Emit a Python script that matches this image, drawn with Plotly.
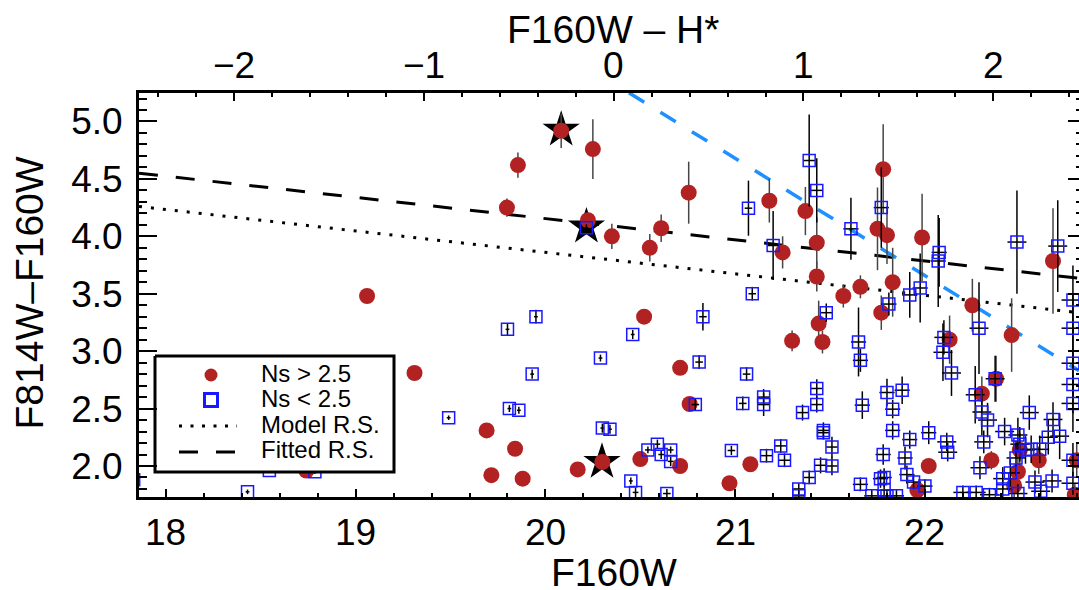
import plotly.graph_objects as go

# ---------------- data ----------------
# red circles (Ns > 2.5): F160W, F814W-F160W, error
red_x = [20.083, 20.25, 19.855, 19.797, 20.224, 20.35, 20.61, 20.55, 20.755, 19.06,
         19.31, 20.52, 20.30, 20.17, 20.50, 20.71, 20.97, 21.08, 20.71, 20.76,
         19.69, 19.84, 19.715, 19.88, 18.74, 21.18, 21.37, 21.78, 21.75, 21.80,
         21.985, 21.43, 21.25, 21.43, 21.66, 21.57, 21.83, 22.25, 22.675, 21.77,
         21.44, 21.30, 21.46, 22.457, 22.13, 22.375, 22.30, 22.02, 21.96, 22.35,
         22.50, 22.49, 22.47, 22.60, 22.80, 22.79]
red_y = [4.92, 4.76, 4.62, 4.25, 4.14, 4.00, 4.07, 3.90, 4.38, 3.48,
         2.81, 3.30, 2.035, 1.97, 2.06, 2.00, 1.85, 2.015, 2.855, 2.54,
         2.31, 2.15, 1.92, 1.89, 1.96, 4.31, 4.22, 4.585, 4.065, 4.01,
         3.99, 3.945, 3.86, 3.65, 3.56, 3.48, 3.60, 3.40, 3.785, 3.335,
         3.24, 3.09, 3.08, 3.14, 3.10, 2.76, 2.63, 2.00, 1.79, 2.05,
         2.14, 1.95, 1.83, 2.05, 2.05, 1.75]
red_ey = [0.15, 0.26, 0.11, 0.08, 0.05, 0.11, 0.12, 0.12, 0.27, 0.02,
          0.02, 0.03, 0.03, 0.02, 0.03, 0.03, 0.03, 0.04, 0.04, 0.06,
          0.02, 0.02, 0.02, 0.02, 0.01, 0.19, 0.21, 0.39, 0.36, 0.25,
          0.38, 0.22, 0.14, 0.13, 0.10, 0.10, 0.30, 0.23, 0.46, 0.15,
          0.20, 0.09, 0.10, 0.32, 0.21, 0.20, 0.15, 0.06, 0.06, 0.08,
          0.15, 0.12, 0.10, 0.12, 0.15, 0.10]

# blue squares (Ns < 2.5)
sq_x = [17.83, 18.43, 18.545, 18.785, 19.49, 19.80, 19.81, 19.86, 19.93, 19.95,
        20.216, 20.29, 20.30, 20.34, 20.45, 20.475, 20.46, 20.54, 20.59, 20.61,
        20.66, 20.66, 20.64, 20.79, 20.81, 20.83, 20.98, 21.04, 21.06, 21.07,
        21.09, 21.15, 21.15, 21.165, 21.20, 21.24, 21.26, 21.335, 21.355, 21.39,
        21.39, 21.43, 21.43, 21.43, 21.45, 21.465, 21.465, 21.48, 21.51, 21.51,
        21.335, 21.61, 21.65, 21.66, 21.67, 21.66, 21.72, 21.77, 21.78, 21.785,
        21.766, 21.785, 21.80, 21.80, 21.81, 21.83, 21.83, 21.85, 21.88, 21.895,
        21.905, 21.92, 21.92, 21.94, 21.975, 22.00, 22.02, 22.07, 22.075, 22.10,
        22.095, 22.115, 22.12, 22.14, 22.20, 22.265, 22.27, 22.285, 22.29, 22.30,
        22.31, 22.33, 22.34, 22.37, 22.41, 22.41, 22.42, 22.45, 22.48, 22.485,
        22.49, 22.50, 22.49, 22.53, 22.55, 22.56, 22.58, 22.605, 22.61, 22.65,
        22.67, 22.675, 22.70, 22.71, 22.78, 22.78, 22.78, 22.78, 22.78, 22.78,
        22.78]
sq_y = [1.88, 1.775, 1.96, 1.95, 2.42, 3.19, 2.50, 2.485, 2.80, 3.30,
        4.075, 2.94, 2.33, 2.32, 1.87, 1.77, 3.145, 2.14, 2.19, 2.10,
        2.14, 2.04, 1.76, 2.535, 2.905, 3.30, 2.135, 2.545, 2.80, 4.245,
        3.50, 2.60, 2.535, 2.09, 3.92, 2.175, 2.05, 1.80, 2.465, 1.90,
        4.66, 4.40, 2.675, 2.535, 2.006, 2.31, 2.29, 3.335, 2.165, 2.00,
        1.74, 4.065, 3.08, 2.92, 2.53, 1.84, 1.74, 4.25, 2.10, 1.90,
        1.89, 1.79, 2.64, 1.74, 3.41, 2.495, 2.31, 1.74, 2.66, 2.07,
        1.925, 3.49, 2.23, 1.86, 3.55, 1.825, 2.29, 3.785, 3.86, 3.12,
        2.99, 2.21, 2.12, 2.81, 1.77, 2.62, 1.77, 3.20, 1.985, 2.47,
        2.21, 2.40, 1.75, 2.76, 1.89, 1.80, 2.30, 1.94, 2.07, 3.95,
        2.27, 2.19, 1.76, 2.14, 2.465, 2.145, 1.86, 2.145, 1.78, 2.25,
        1.87, 2.405, 3.915, 2.26, 3.445, 3.20, 2.895, 2.71, 2.545, 2.05,
        1.85]
sq_ex = [0.01, 0.01, 0.01, 0.01, 0.01, 0.01, 0.01, 0.01, 0.01, 0.01,
         0.01, 0.01, 0.01, 0.01, 0.01, 0.015, 0.01, 0.015, 0.015, 0.015,
         0.015, 0.015, 0.02, 0.02, 0.02, 0.02, 0.02, 0.02, 0.02, 0.02,
         0.02, 0.03, 0.03, 0.03, 0.03, 0.03, 0.03, 0.03, 0.03, 0.03,
         0.03, 0.03, 0.03, 0.03, 0.03, 0.03, 0.03, 0.03, 0.03, 0.03,
         0.03, 0.04, 0.04, 0.04, 0.04, 0.04, 0.04, 0.04, 0.04, 0.04,
         0.04, 0.04, 0.04, 0.04, 0.04, 0.04, 0.04, 0.04, 0.04, 0.04,
         0.04, 0.04, 0.04, 0.04, 0.04, 0.04, 0.04, 0.04, 0.04, 0.05,
         0.05, 0.05, 0.05, 0.05, 0.05, 0.05, 0.05, 0.05, 0.05, 0.05,
         0.05, 0.05, 0.05, 0.05, 0.05, 0.05, 0.05, 0.05, 0.05, 0.05,
         0.05, 0.05, 0.05, 0.05, 0.05, 0.05, 0.05, 0.05, 0.05, 0.05,
         0.05, 0.05, 0.05, 0.05, 0.06, 0.06, 0.06, 0.06, 0.06, 0.06,
         0.06]
sq_ey = [0.02, 0.02, 0.02, 0.02, 0.02, 0.05, 0.03, 0.03, 0.04, 0.06,
         0.03, 0.03, 0.04, 0.04, 0.03, 0.04, 0.04, 0.03, 0.04, 0.04,
         0.03, 0.04, 0.04, 0.05, 0.06, 0.12, 0.04, 0.06, 0.06, 0.24,
         0.06, 0.07, 0.10, 0.06, 0.30, 0.06, 0.06, 0.05, 0.07, 0.06,
         0.40, 0.28, 0.08, 0.07, 0.07, 0.07, 0.06, 0.08, 0.09, 0.08,
         0.05, 0.27, 0.30, 0.10, 0.12, 0.06, 0.05, 0.35, 0.09, 0.08,
         0.08, 0.07, 0.12, 0.05, 0.10, 0.08, 0.08, 0.05, 0.12, 0.10,
         0.08, 0.20, 0.08, 0.06, 0.30, 0.06, 0.10, 0.40, 0.30, 0.15,
         0.25, 0.08, 0.08, 0.20, 0.06, 0.25, 0.06, 0.40, 0.10, 0.20,
         0.10, 0.15, 0.06, 0.20, 0.10, 0.08, 0.12, 0.12, 0.15, 0.45,
         0.15, 0.15, 0.08, 0.12, 0.15, 0.12, 0.10, 0.12, 0.08, 0.15,
         0.10, 0.15, 0.40, 0.20, 0.30, 0.30, 0.30, 0.25, 0.25, 0.15,
         0.10]

# starred objects
star_x = [20.083, 20.216, 20.298]
star_y = [4.928, 4.084, 2.035]

# red-sequence lines
model_rs_x = [17.858, 22.812]
model_rs_y = [4.26, 3.335]
fitted_rs_x = [17.858, 22.812]
fitted_rs_y = [4.55, 3.635]
limit_x = [20.44, 22.812]
limit_y = [5.25, 2.83]

# axes
x_range = [17.858, 22.812]
y_range = [1.730, 5.248]
h_star = 20.36            # F160W value of H*
bottom_ticks = [18, 19, 20, 21, 22]
bottom_tick_text = ["18", "19", "20", "21", "22"]
top_ticks = [-2, -1, 0, 1, 2]
top_tick_text = ["\u22122", "\u22121", "0", "1", "2"]

FONT = "Liberation Sans, Arial, Helvetica, sans-serif"
RED = "rgb(178,34,34)"
BLUE = "rgb(25,25,255)"

fig = go.Figure()

fig.add_trace(go.Scatter(x=model_rs_x, y=model_rs_y, mode="lines",
                         line=dict(color="black", width=3, dash="3px,9px"),
                         showlegend=False, hoverinfo="skip"))
fig.add_trace(go.Scatter(x=fitted_rs_x, y=fitted_rs_y, mode="lines",
                         line=dict(color="black", width=3, dash="19px,18px"),
                         showlegend=False, hoverinfo="skip"))
fig.add_trace(go.Scatter(x=limit_x, y=limit_y, mode="lines",
                         line=dict(color="rgb(30,144,255)", width=3.5, dash="18px,19px"),
                         showlegend=False, hoverinfo="skip"))
fig.add_trace(go.Scatter(x=star_x, y=star_y, mode="markers",
                         marker=dict(symbol="star", size=28, color="black"),
                         showlegend=False))
fig.add_trace(go.Scatter(x=red_x, y=red_y, mode="markers",
                         marker=dict(symbol="circle", size=16, color=RED),
                         error_y=dict(type="data", array=red_ey, color="rgb(70,70,70)",
                                      thickness=1.5, width=0),
                         showlegend=False))
fig.add_trace(go.Scatter(x=sq_x, y=sq_y, mode="markers",
                         marker=dict(symbol="square-open", size=12, color=BLUE,
                                     line=dict(color=BLUE, width=1.5)),
                         error_x=dict(type="data", array=sq_ex, color="black",
                                      thickness=1.5, width=0),
                         error_y=dict(type="data", array=sq_ey, color="black",
                                      thickness=1.5, width=0),
                         showlegend=False))
# dummy traces so the top / right axes exist
fig.add_trace(go.Scatter(x=[None], y=[None], xaxis="x2", yaxis="y", showlegend=False))
fig.add_trace(go.Scatter(x=[None], y=[None], xaxis="x", yaxis="y2", showlegend=False))

# ---------------- hand-drawn legend on a pixel-coordinate overlay ----------------
L, R, T, B = 139, 1079, 93, 497
box_x = [155, 394, 394, 155, 155]
box_y = [356, 356, 472, 472, 356]
fig.add_trace(go.Scatter(x=box_x, y=box_y, xaxis="x3", yaxis="y3", mode="lines",
                         fill="toself", fillcolor="white",
                         line=dict(color="black", width=3), showlegend=False,
                         hoverinfo="skip"))
fig.add_trace(go.Scatter(x=[211], y=[375], xaxis="x3", yaxis="y3", mode="markers",
                         marker=dict(symbol="circle", size=13, color=RED), showlegend=False))
fig.add_trace(go.Scatter(x=[211], y=[400], xaxis="x3", yaxis="y3", mode="markers",
                         marker=dict(symbol="square-open", size=13, color=BLUE,
                                     line=dict(color=BLUE, width=3)), showlegend=False))
fig.add_trace(go.Scatter(x=[179, 237], y=[426, 426], xaxis="x3", yaxis="y3", mode="lines",
                         line=dict(color="black", width=3, dash="3px,8.5px"), showlegend=False))
fig.add_trace(go.Scatter(x=[179, 237], y=[452, 452], xaxis="x3", yaxis="y3", mode="lines",
                         line=dict(color="black", width=3, dash="19px,18px"), showlegend=False))

legend_labels = ["Ns > 2.5", "Ns < 2.5", "Model R.S.", "Fitted R.S."]
legend_rows = [373, 398.5, 424, 449.5]
annotations = []
for lab, ry in zip(legend_labels, legend_rows):
    annotations.append(dict(text=lab, x=259, y=ry, xref="x3", yref="y3",
                            xanchor="left", yanchor="middle", showarrow=False,
                            font=dict(family=FONT, size=24, color="black")))

tickfont = dict(family=FONT, size=37, color="black")

# x tick labels (bottom and top) placed as text at the tick values
for v, t in zip(bottom_ticks, bottom_tick_text):
    annotations.append(dict(text=t, x=v, y=(B - 532) / (B - T), xref="x", yref="paper",
                            xanchor="center", yanchor="middle", showarrow=False,
                            font=tickfont))
for v, t in zip(top_ticks, top_tick_text):
    annotations.append(dict(text=t, x=v, y=(B - 66) / (B - T), xref="x2", yref="paper",
                            xanchor="center", yanchor="middle", showarrow=False,
                            font=tickfont))

# axis titles
annotations.append(dict(text="F160W", x=(614 - L) / (R - L), y=(B - 572) / (B - T),
                        xref="paper", yref="paper", xanchor="center", yanchor="middle",
                        showarrow=False, font=dict(family=FONT, size=39, color="black")))
annotations.append(dict(text="F160W \u2013 H*", x=(612.5 - L) / (R - L), y=(B - 29) / (B - T),
                        xref="paper", yref="paper", xanchor="center", yanchor="middle",
                        showarrow=False, font=dict(family=FONT, size=39, color="black")))
annotations.append(dict(text="F814W\u2013F160W", x=(28.5 - L) / (R - L), y=(B - 293) / (B - T),
                        xref="paper", yref="paper", xanchor="center", yanchor="middle",
                        textangle=-90, showarrow=False,
                        font=dict(family=FONT, size=39, color="black")))

fig.update_layout(
    width=1079, height=590, autosize=False,
    margin=dict(l=L, r=1079 - R, t=T, b=590 - B, pad=0),
    paper_bgcolor="white", plot_bgcolor="white",
    showlegend=False,
    annotations=annotations,
    xaxis=dict(range=x_range, showgrid=False, zeroline=False,
               showline=True, linecolor="black", linewidth=3,
               ticks="inside", ticklen=8, tickwidth=2, tickcolor="black",
               tick0=0, dtick=1, showticklabels=False,
               minor=dict(ticks="inside", ticklen=4, tickwidth=2, tickcolor="black",
                          tick0=0, dtick=0.2, showgrid=False)),
    xaxis2=dict(overlaying="x", side="top", anchor="y",
                range=[x_range[0] - h_star, x_range[1] - h_star],
                showgrid=False, zeroline=False,
                showline=True, linecolor="black", linewidth=3,
                ticks="inside", ticklen=8, tickwidth=2, tickcolor="black",
                tick0=0, dtick=1, showticklabels=False,
                minor=dict(ticks="inside", ticklen=4, tickwidth=2, tickcolor="black",
                           tick0=0, dtick=0.2, showgrid=False)),
    yaxis=dict(range=y_range, showgrid=False, zeroline=False,
               showline=True, linecolor="black", linewidth=3,
               ticks="inside", ticklen=18, tickwidth=2, tickcolor="black",
               tick0=0, dtick=0.5, tickformat=".1f", tickfont=tickfont,
               ticklabelstandoff=6,
               minor=dict(ticks="inside", ticklen=8, tickwidth=2, tickcolor="black",
                          tick0=0, dtick=0.1, showgrid=False)),
    yaxis2=dict(overlaying="y", side="right", anchor="x", range=y_range,
                showgrid=False, zeroline=False, showline=False, showticklabels=False,
                ticks="inside", ticklen=11, tickwidth=2, tickcolor="black",
                tick0=0, dtick=0.5,
                minor=dict(ticks="inside", ticklen=3, tickwidth=2, tickcolor="black",
                           tick0=0, dtick=0.1, showgrid=False)),
    xaxis3=dict(overlaying="x", anchor="y3", range=[L, R], visible=False, fixedrange=True),
    yaxis3=dict(overlaying="y", anchor="x3", range=[B, T], visible=False, fixedrange=True),
)

fig.write_html("out.html")
